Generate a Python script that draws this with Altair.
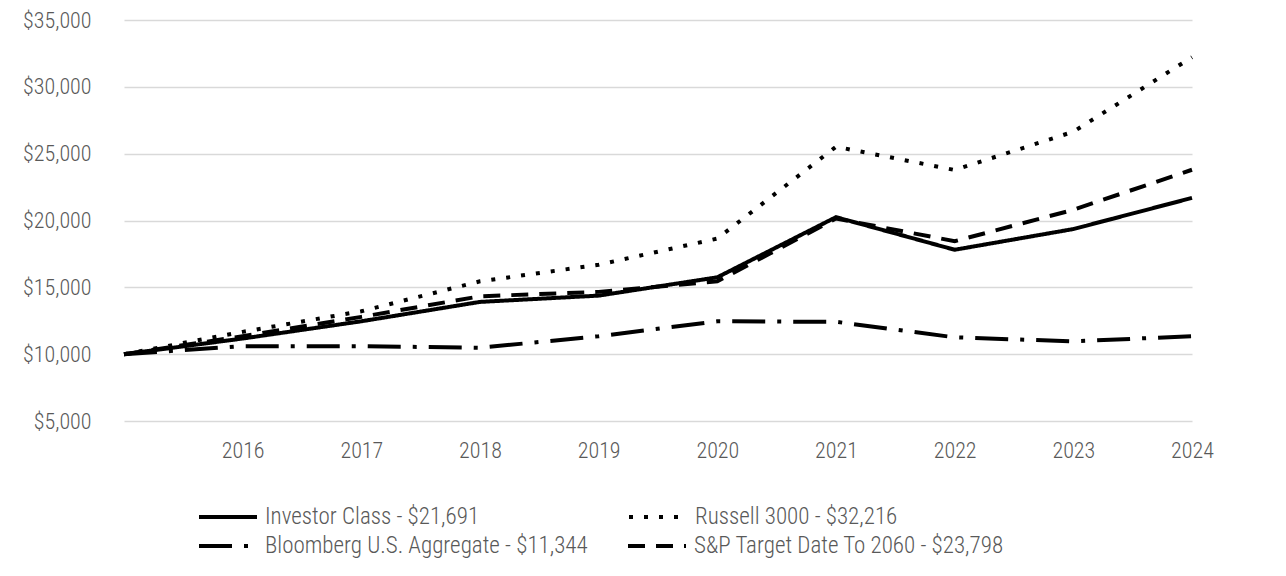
import altair as alt
import pandas as pd

years = [2015, 2016, 2017, 2018, 2019, 2020, 2021, 2022, 2023, 2024]
series_names = [
    "Investor Class - $21,691",
    "Russell 3000 - $32,216",
    "Bloomberg U.S. Aggregate - $11,344",
    "S&P Target Date To 2060 - $23,798",
]
investor = [10000, 11170, 12460, 13910, 14380, 15750, 20250, 17810, 19360, 21691]
russell = [10000, 11670, 13210, 15450, 16690, 18650, 25520, 23780, 26640, 32216]
bloomberg = [10000, 10600, 10600, 10480, 11340, 12460, 12420, 11260, 10960, 11344]
sp2060 = [10000, 11340, 12790, 14330, 14660, 15450, 20150, 18450, 20800, 23798]
y_ticks = [5000, 10000, 15000, 20000, 25000, 30000, 35000]
x_ticks = [2016, 2017, 2018, 2019, 2020, 2021, 2022, 2023, 2024]
dashes = [[1, 0], [4, 11], [33, 12, 4, 12], [17, 11]]

rows = []
for name, vals in zip(series_names, [investor, russell, bloomberg, sp2060]):
    for yr, v in zip(years, vals):
        rows.append({"year": yr, "value": v, "series": name})
df = pd.DataFrame(rows)

FONT = "Roboto Condensed, Liberation Sans Narrow, Arial Narrow, sans-serif"
GREY = "#595959"

x_enc = alt.X(
    "year:Q",
    scale=alt.Scale(domain=[2015, 2024], nice=False, zero=False),
    axis=alt.Axis(
        values=x_ticks, format="d", title=None, grid=False, domain=False,
        ticks=False, labelFont=FONT, labelFontSize=22, labelColor=GREY,
        labelFontWeight=300, labelPadding=19, labelFlush=False,
    ),
)
y_enc = alt.Y(
    "value:Q",
    scale=alt.Scale(domain=[5000, 35000], nice=False, zero=False),
    axis=alt.Axis(
        values=y_ticks, format="$,.0f", title=None, domain=False, ticks=False,
        gridColor="#d9d9d9", gridWidth=1.5, labelFont=FONT, labelFontSize=22,
        labelFontWeight=300, labelColor=GREY, labelPadding=33,
    ),
)


def legend(y, col_pad):
    return alt.Legend(
        title=None, orient="none", legendX=73, legendY=y,
        direction="horizontal", columnPadding=col_pad,
        symbolType="stroke", symbolSize=3364, symbolStrokeWidth=4,
        symbolStrokeColor="black", labelFont=FONT, labelFontSize=23,
        labelFontWeight=300, labelColor=GREY, labelOffset=6, labelLimit=0,
    )


def layer(names, dash, y, col_pad):
    sub = df[df["series"].isin(names)]
    return alt.Chart(sub).mark_line(strokeWidth=4, color="black").encode(
        x=x_enc,
        y=y_enc,
        strokeDash=alt.StrokeDash(
            "series:N",
            scale=alt.Scale(domain=names, range=dash),
            sort=names,
            legend=legend(y, col_pad),
        ),
    )


top = layer(series_names[0:2], dashes[0:2], 466, 141)
bottom = layer(series_names[2:4], dashes[2:4], 495, 32)

chart = alt.layer(bottom, top).resolve_scale(strokeDash="independent").properties(
    width=1068,
    height=401,
    background="white",
    autosize=alt.AutoSizeParams(type="none"),
    padding={"left": 124, "top": 20, "right": 94, "bottom": 155},
).configure_view(stroke=None)

chart.save("out.html", embed_options={"renderer": "svg", "actions": False})
